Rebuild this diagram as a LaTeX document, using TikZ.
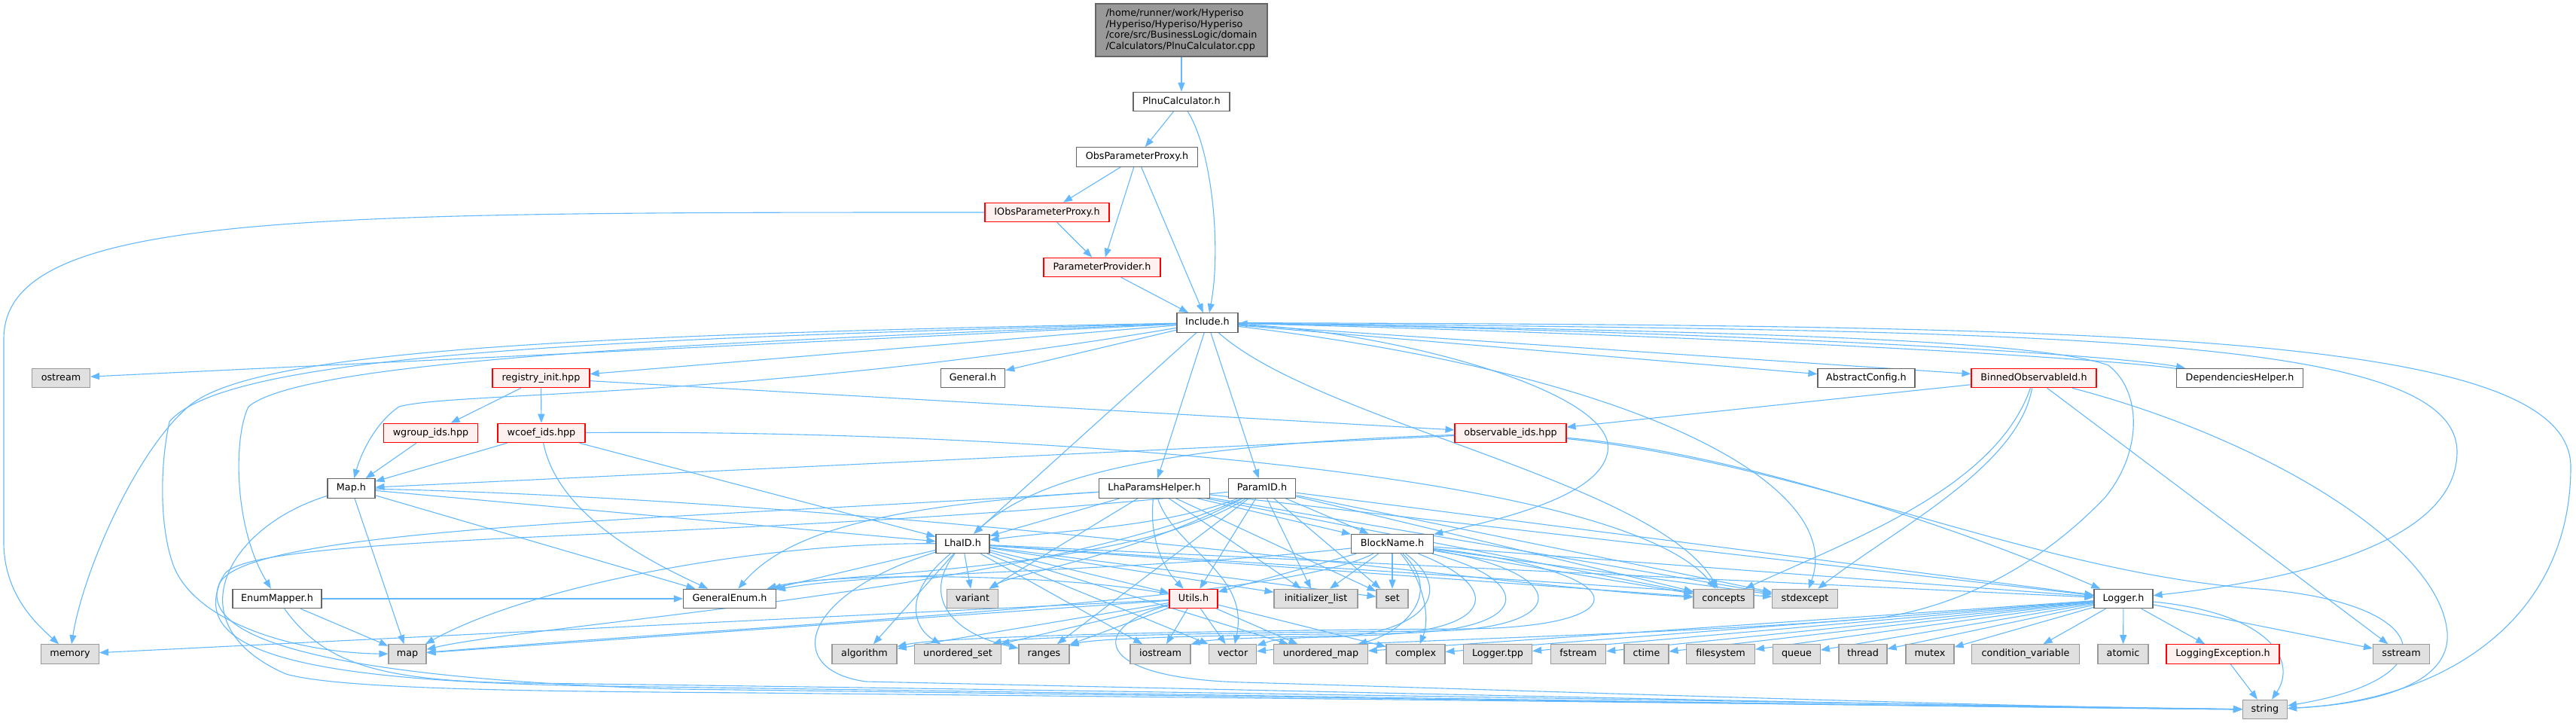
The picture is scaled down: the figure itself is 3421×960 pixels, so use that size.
\documentclass[tikz,border=0pt]{standalone}
\usepackage{fontspec}
\setmainfont{DejaVu Sans}
\usetikzlibrary{arrows.meta}
\definecolor{edgec}{HTML}{63B8FF}
\definecolor{bordc}{HTML}{666666}
\definecolor{sysfill}{HTML}{E0E0E0}
\definecolor{sysbord}{HTML}{999999}
\definecolor{redfill}{HTML}{FFF0F0}
\definecolor{redbord}{HTML}{FF0000}
\definecolor{rootfill}{HTML}{999999}
\pgfdeclarelayer{edgelayer}
\pgfsetlayers{edgelayer,main}
\begin{document}
\begin{tikzpicture}[x=1pt,y=-1pt,
  hdr/.style={draw=bordc, fill=white, line width=1.1pt, minimum height=25.5pt, inner xsep=2pt, inner ysep=0pt, text height=9.4pt, text depth=2.6pt, font=\fontsize{12.75}{14.7}\selectfont},
  hdrred/.style={hdr, draw=redbord, fill=redfill},
  hdrsys/.style={hdr, draw=sysbord, fill=sysfill},
  rootbox/.style={draw=bordc, fill=rootfill, line width=1.1pt, minimum width=228pt, minimum height=70pt, align=left, inner xsep=2pt, font=\fontsize{12.75}{14.7}\selectfont},
  arr/.style={draw=edgec, line width=1.1pt, -{Triangle[length=12pt,width=9pt]}}
]
\useasboundingbox (0,0) rectangle (3421,960);
% ---------------- nodes ----------------
\node[rootbox] (root) at (1569,40) {/home/runner/work/Hyperiso\\/Hyperiso/Hyperiso/Hyperiso\\/core/src/BusinessLogic/domain\\/Calculators/PlnuCalculator.cpp};
\node[hdr, minimum width=128pt] (plnu) at (1569,135) {PlnuCalculator.h};
\node[hdr, minimum width=161.6pt] (obs) at (1510,208.5) {ObsParameterProxy.h};
\node[hdrred, minimum width=165pt] (iobs) at (1390.5,282) {IObsParameterProxy.h};
\node[hdrred, minimum width=155pt] (pp) at (1463.5,355) {ParameterProvider.h};
\node[hdr, minimum width=81pt] (inc) at (1603.5,428.5) {Include.h};
\node[hdrsys, minimum width=77pt] (ostream) at (81,502) {ostream};
\node[hdrred, minimum width=129pt] (reg) at (718.5,502) {registry\_init.hpp};
\node[hdr, minimum width=85.5pt] (general) at (1292,502) {General.h};
\node[hdr, minimum width=129pt] (abscfg) at (2478.5,502) {AbstractConfig.h};
\node[hdrred, minimum width=166pt] (binned) at (2701,502) {BinnedObservableId.h};
\node[hdr, minimum width=168pt] (dephelp) at (2974.6,502) {DependenciesHelper.h};
\node[hdrred, minimum width=125pt] (wgroup) at (572,575) {wgroup\_ids.hpp};
\node[hdrred, minimum width=116pt] (wcoef) at (719,575) {wcoef\_ids.hpp};
\node[hdrred, minimum width=148pt] (obsids) at (2006,575) {observable\_ids.hpp};
\node[hdr, minimum width=63pt] (maph) at (466.5,648.5) {Map.h};
\node[hdr, minimum width=147pt] (lhaph) at (1533,648.5) {LhaParamsHelper.h};
\node[hdr, minimum width=89.6pt] (paramid) at (1676,648.5) {ParamID.h};
\node[hdr, minimum width=71pt] (lhaid) at (1278.5,722) {LhaID.h};
\node[hdr, minimum width=109pt] (block) at (1849,722) {BlockName.h};
\node[hdr, minimum width=118pt] (enummap) at (368,795) {EnumMapper.h};
\node[hdr, minimum width=123pt] (genenum) at (969,795) {GeneralEnum.h};
\node[hdrsys, minimum width=68.6pt] (variant) at (1291.5,795) {variant};
\node[hdrred, minimum width=64pt] (utils) at (1585,795) {Utils.h};
\node[hdrsys, minimum width=111pt] (initl) at (1747.5,795) {initializer\_list};
\node[hdrsys, minimum width=42pt] (set) at (1849,795) {set};
\node[hdrsys, minimum width=80pt] (concepts) at (2289,795) {concepts};
\node[hdrsys, minimum width=86.6pt] (stdexcept) at (2397,795) {stdexcept};
\node[hdr, minimum width=78pt] (logger) at (2820,795) {Logger.h};
\node[hdrsys, minimum width=77pt] (memory) at (93,868.5) {memory};
\node[hdrsys, minimum width=50pt] (map) at (541,868.5) {map};
\node[hdrsys, minimum width=86pt] (algorithm) at (1148,868.5) {algorithm};
\node[hdrsys, minimum width=115pt] (uset) at (1272,868.5) {unordered\_set};
\node[hdrsys, minimum width=67pt] (ranges) at (1386.5,868.5) {ranges};
\node[hdrsys, minimum width=80pt] (iostream) at (1541,868.5) {iostream};
\node[hdrsys, minimum width=63pt] (vector) at (1637,868.5) {vector};
\node[hdrsys, minimum width=124.5pt] (umap) at (1754,868.5) {unordered\_map};
\node[hdrsys, minimum width=78pt] (complex) at (1880,868.5) {complex};
\node[hdrsys, minimum width=91pt] (ltpp) at (1989,868.5) {Logger.tpp};
\node[hdrsys, minimum width=73.5pt] (fstream) at (2096,868.5) {fstream};
\node[hdrsys, minimum width=59pt] (ctime) at (2186.5,868.5) {ctime};
\node[hdrsys, minimum width=91pt] (filesystem) at (2285,868.5) {filesystem};
\node[hdrsys, minimum width=62.5pt] (queue) at (2386,868.5) {queue};
\node[hdrsys, minimum width=64pt] (thread) at (2474,868.5) {thread};
\node[hdrsys, minimum width=64pt] (mutex) at (2563,868.5) {mutex};
\node[hdrsys, minimum width=143pt] (condvar) at (2690,868.5) {condition\_variable};
\node[hdrsys, minimum width=67pt] (atomic) at (2819.5,868.5) {atomic};
\node[hdrred, minimum width=150pt] (logexc) at (2952,868.5) {LoggingException.h};
\node[hdrsys, minimum width=75pt] (sstream) at (3189,868.5) {sstream};
\node[hdrsys, minimum width=59pt] (string) at (3008,942) {string};
% ---------------- edges ----------------
\begin{pgfonlayer}{edgelayer}
% top chain
\draw[arr] (root) -- (plnu);
\draw[arr] (plnu) -- (obs);
\draw[arr] (plnu) .. controls (1610,200) and (1622,330) .. (inc);
\draw[arr] (obs) -- (iobs);
\draw[arr] (obs) -- (pp);
\draw[arr] (obs) -- (inc);
\draw[arr] (iobs) -- (pp);
\draw[arr] (pp) -- (inc);
\draw[arr] (iobs) .. controls (400,282) and (5,282) .. (5,450) -- (5,720) .. controls (5,790) and (50,830) .. (memory);
% Include.h
\draw[arr] (inc) -- (ostream);
\draw[arr] (inc) .. controls (700,445) and (330,470) .. (250,540) .. controls (180,600) and (110,760) .. (memory);
\draw[arr] (inc) .. controls (800,450) and (300,470) .. (225,560) .. controls (212,620) and (212,700) .. (230,750) .. controls (260,830) and (400,867) .. (map);
\draw[arr] (inc) .. controls (900,455) and (400,480) .. (330,540) .. controls (310,580) and (310,700) .. (enummap);
\draw[arr] (inc) .. controls (1000,530) and (600,520) .. (530,540) .. controls (500,560) and (480,600) .. (maph);
\draw[arr] (inc) -- (reg);
\draw[arr] (inc) -- (general);
\draw[arr] (inc) -- (lhaid);
\draw[arr] (inc) -- (lhaph);
\draw[arr] (inc) -- (paramid);
\draw[arr] (inc) .. controls (1850,440) and (2150,520) .. (2135,600) .. controls (2125,660) and (1990,690) .. (block);
\draw[arr] (inc) -- (abscfg);
\draw[arr] (inc) -- (binned);
\draw[arr] (inc) .. controls (2300,440) and (2800,470) .. (dephelp);
\draw[arr] (dephelp) .. controls (2800,476) and (2300,446) .. (inc);
\draw[arr] (inc) .. controls (2700,440) and (3263,440) .. (3263,600) .. controls (3263,720) and (3050,770) .. (logger);
\draw[arr] (inc) .. controls (2800,432) and (3414,440) .. (3414,620) .. controls (3414,820) and (3250,930) .. (string);
\draw[arr] (inc) .. controls (2300,440) and (2700,450) .. (2800,485) .. controls (2845,520) and (2845,600) .. (2796,660) .. controls (2720,740) and (2620,800) .. (2500,820) .. controls (2200,845) and (1800,850) .. (vector);
\draw[arr] (inc) .. controls (2200,500) and (2450,650) .. (stdexcept);
\draw[arr] (inc) .. controls (1750,560) and (2200,640) .. (concepts);
% registry_init.hpp
\draw[arr] (reg) -- (wgroup);
\draw[arr] (reg) -- (wcoef);
\draw[arr] (reg) -- (obsids);
% wgroup / wcoef
\draw[arr] (wgroup) -- (maph);
\draw[arr] (wcoef) -- (maph);
\draw[arr] (wcoef) .. controls (740,680) and (850,740) .. (genenum);
\draw[arr] (wcoef) -- (lhaid);
\draw[arr] (wcoef) .. controls (1300,570) and (2150,620) .. (concepts);
% observable_ids.hpp
\draw[arr] (obsids) -- (maph);
\draw[arr] (obsids) .. controls (1550,590) and (1380,630) .. (lhaid);
\draw[arr] (obsids) .. controls (2300,600) and (2600,700) .. (logger);
\draw[arr] (obsids) .. controls (2400,615) and (2700,760) .. (3000,782) .. controls (3230,800) and (3260,900) .. (string);
% BinnedObservableId.h
\draw[arr] (binned) -- (obsids);
\draw[arr] (binned) .. controls (2650,650) and (2450,720) .. (concepts);
\draw[arr] (binned) .. controls (2680,620) and (2520,700) .. (stdexcept);
\draw[arr] (binned) -- (sstream);
\draw[arr] (binned) .. controls (3000,580) and (3240,720) .. (3250,840) .. controls (3255,910) and (3150,935) .. (string);
% Map.h
\draw[arr] (maph) -- (map);
\draw[arr] (maph) .. controls (300,700) and (230,830) .. (380,895) .. controls (450,915) and (700,918) .. (1000,920) .. controls (2000,930) and (2800,940) .. (string);
\draw[arr] (maph) -- (lhaid);
\draw[arr] (maph) -- (genenum);
\draw[arr] (maph) .. controls (1200,665) and (2000,780) .. (concepts);
% EnumMapper.h
\draw[arr] (enummap) -- (map);
\draw[arr] (enummap) -- (genenum);
\draw[arr] (enummap) .. controls (430,880) and (500,905) .. (700,907) .. controls (1500,917) and (2700,938) .. (string);
% LhaID.h
\draw[arr] (lhaid) -- (genenum);
\draw[arr] (lhaid) -- (variant);
\draw[arr] (lhaid) -- (algorithm);
\draw[arr] (lhaid) .. controls (1195,790) and (1215,835) .. (uset);
\draw[arr] (lhaid) .. controls (1225,790) and (1260,840) .. (ranges);
\draw[arr] (lhaid) -- (iostream);
\draw[arr] (lhaid) -- (utils);
\draw[arr] (lhaid) -- (initl);
\draw[arr] (lhaid) -- (set);
\draw[arr] (lhaid) -- (concepts);
\draw[arr] (lhaid) -- (stdexcept);
\draw[arr] (lhaid) -- (logger);
\draw[arr] (lhaid) .. controls (1000,720) and (700,780) .. (map);
\draw[arr] (lhaid) .. controls (1060,790) and (1040,890) .. (1150,905) .. controls (1700,917) and (2700,940) .. (string);
\draw[arr] (lhaid) -- (umap);
\draw[arr] (lhaid) -- (vector);
% LhaParamsHelper.h
\draw[arr] (lhaph) -- (lhaid);
\draw[arr] (lhaph) -- (block);
\draw[arr] (lhaph) .. controls (1525,720) and (1550,760) .. (utils);
\draw[arr] (lhaph) .. controls (1200,670) and (1050,700) .. (genenum);
\draw[arr] (lhaph) -- (set);
\draw[arr] (lhaph) -- (initl);
\draw[arr] (lhaph) -- (concepts);
\draw[arr] (lhaph) -- (stdexcept);
\draw[arr] (lhaph) -- (logger);
\draw[arr] (lhaph) -- (variant);
\draw[arr] (lhaph) .. controls (1560,730) and (1660,760) .. (vector);
\draw[arr] (lhaph) .. controls (900,690) and (300,700) .. (290,780) .. controls (260,870) and (420,905) .. (800,911) .. controls (1600,922) and (2700,940) .. (string);
% ParamID.h
\draw[arr] (paramid) .. controls (1550,700) and (1400,705) .. (lhaid);
\draw[arr] (paramid) -- (block);
\draw[arr] (paramid) -- (utils);
\draw[arr] (paramid) .. controls (1500,760) and (1100,760) .. (genenum);
\draw[arr] (paramid) -- (initl);
\draw[arr] (paramid) -- (set);
\draw[arr] (paramid) -- (concepts);
\draw[arr] (paramid) -- (stdexcept);
\draw[arr] (paramid) -- (logger);
\draw[arr] (paramid) .. controls (1500,740) and (1350,760) .. (variant);
\draw[arr] (paramid) -- (ranges);
\draw[arr] (paramid) .. controls (1400,780) and (700,830) .. (map);
\draw[arr] (paramid) .. controls (1000,720) and (360,705) .. (300,760) .. controls (240,840) and (400,900) .. (900,915) .. controls (1700,925) and (2700,940) .. (string);
% BlockName.h
\draw[arr] (block) -- (initl);
\draw[arr] (block) -- (set);
\draw[arr] (block) -- (concepts);
\draw[arr] (block) -- (stdexcept);
\draw[arr] (block) -- (logger);
\draw[arr] (block) -- (utils);
\draw[arr] (block) .. controls (1500,760) and (1150,760) .. (genenum);
\draw[arr] (block) .. controls (1700,800) and (1000,830) .. (map);
\draw[arr] (block) .. controls (1890,770) and (1900,820) .. (complex);
\draw[arr] (block) .. controls (1920,790) and (1860,840) .. (umap);
\draw[arr] (block) .. controls (1940,790) and (1880,845) .. (1760,846) .. controls (1700,847) and (1690,850) .. (vector);
\draw[arr] (block) .. controls (2000,780) and (1990,842) .. (1800,844) .. controls (1650,846) and (1600,850) .. (iostream);
\draw[arr] (block) .. controls (2040,770) and (2040,839) .. (1850,841) .. controls (1600,843) and (1450,848) .. (ranges);
\draw[arr] (block) .. controls (2090,760) and (2090,836) .. (1900,838) .. controls (1600,840) and (1350,846) .. (uset);
\draw[arr] (block) .. controls (2180,760) and (2180,832) .. (1950,835) .. controls (1600,837) and (1250,845) .. (algorithm);
% Utils.h
\draw[arr] (utils) -- (memory);
\draw[arr] (utils) -- (map);
\draw[arr] (utils) -- (algorithm);
\draw[arr] (utils) -- (uset);
\draw[arr] (utils) -- (ranges);
\draw[arr] (utils) -- (iostream);
\draw[arr] (utils) -- (vector);
\draw[arr] (utils) -- (umap);
\draw[arr] (utils) -- (complex);
\draw[arr] (utils) .. controls (1400,760) and (1100,760) .. (genenum);
\draw[arr] (utils) .. controls (1450,830) and (1440,900) .. (1650,906) .. controls (2000,916) and (2700,940) .. (string);
% Logger.h
\draw[arr] (logger) -- (umap);
\draw[arr] (logger) -- (complex);
\draw[arr] (logger) -- (ltpp);
\draw[arr] (logger) -- (fstream);
\draw[arr] (logger) -- (ctime);
\draw[arr] (logger) -- (filesystem);
\draw[arr] (logger) -- (queue);
\draw[arr] (logger) -- (thread);
\draw[arr] (logger) -- (mutex);
\draw[arr] (logger) -- (condvar);
\draw[arr] (logger) -- (atomic);
\draw[arr] (logger) -- (logexc);
\draw[arr] (logger) -- (sstream);
\draw[arr] (logger) .. controls (3020,815) and (3050,880) .. (string);
% LoggingException.h
\draw[arr] (logexc) -- (string);
\end{pgfonlayer}
\end{tikzpicture}
\end{document}
